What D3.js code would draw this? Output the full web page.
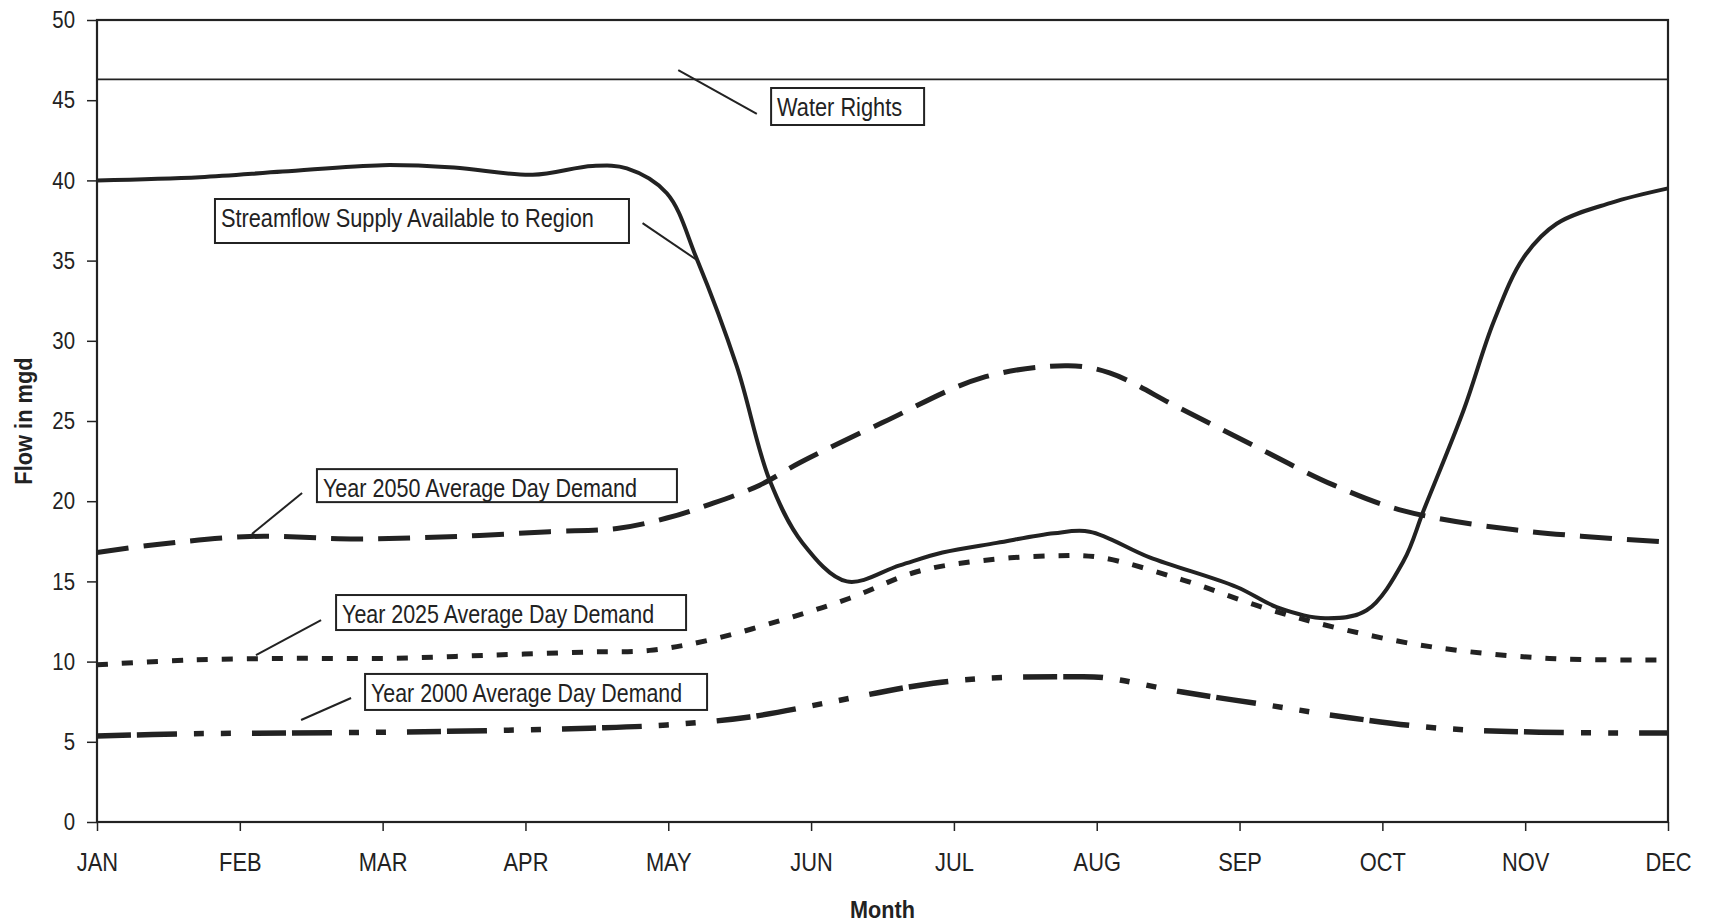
<!DOCTYPE html>
<html>
<head>
<meta charset="utf-8">
<script src="https://cdn.jsdelivr.net/npm/d3@7"></script>
<style>
  body { margin: 0; background: #fff; }
  svg { display: block; }
  text { font-family: "Liberation Sans Narrow", "Arial Narrow", "Liberation Sans", Arial, sans-serif; fill: #222; }
</style>
</head>
<body>
<div id="chart"></div>
<script>
// DATA
const months = ["JAN", "FEB", "MAR", "APR", "MAY", "JUN", "JUL", "AUG", "SEP", "OCT", "NOV", "DEC"];
const yTicks = [0, 5, 10, 15, 20, 25, 30, 35, 40, 45, 50];

const waterRights = 46.3;

// streamflow supply (month position, mgd)
const supplyAt   = [0, 0.72, 1.3, 2.0, 2.5, 3.05, 3.47, 3.71, 3.99, 4.2, 4.48, 4.71, 4.94, 5.25, 5.62, 5.92, 6.3, 6.7, 6.95, 7.37, 7.98, 8.26, 8.6, 8.89, 9.15, 9.29, 9.57, 9.78, 9.99, 10.22, 10.6, 11.0];
const supplyFlow = [40.0, 40.2, 40.55, 40.95, 40.8, 40.35, 40.9, 40.75, 39.2, 35.1, 28.4, 21.3, 17.4, 15.0, 16.0, 16.8, 17.4, 18.0, 18.1, 16.5, 14.65, 13.4, 12.7, 13.2, 16.3, 19.45, 25.7, 31.2, 35.2, 37.3, 38.6, 39.5];

// year 2050 average day demand
const d2050At   = [0, 0.42, 1.07, 1.82, 2.52, 3.17, 3.64, 3.99, 4.29, 4.64, 4.92, 5.5, 6.2, 6.8, 7.09, 7.56, 8.07, 8.66, 9.15, 9.94, 11];
const d2050Flow = [16.8, 17.3, 17.8, 17.65, 17.8, 18.1, 18.3, 18.95, 19.8, 21.0, 22.4, 24.9, 27.7, 28.45, 28.0, 25.9, 23.6, 21.0, 19.4, 18.2, 17.45];

// year 2025 average day demand
const d2025At   = [0, 0.65, 1.35, 2.05, 2.75, 3.45, 3.87, 4.29, 4.8, 5.27, 5.74, 6.2, 6.7, 7.02, 7.6, 8.19, 8.73, 9.36, 10.17, 11];
const d2025Flow = [9.8, 10.1, 10.2, 10.2, 10.4, 10.6, 10.7, 11.35, 12.6, 13.95, 15.6, 16.3, 16.6, 16.5, 15.1, 13.3, 12.0, 10.9, 10.2, 10.1];

// year 2000 average day demand
const d2000At   = [0, 0.65, 1.35, 2.05, 2.75, 3.45, 3.99, 4.57, 5.15, 5.74, 6.2, 6.8, 7.05, 7.6, 8.19, 8.77, 9.4, 10.1, 11];
const d2000Flow = [5.36, 5.5, 5.55, 5.6, 5.7, 5.85, 6.05, 6.55, 7.5, 8.5, 8.95, 9.05, 9.0, 8.1, 7.3, 6.5, 5.85, 5.6, 5.55];

const labelTexts = [
  "Water Rights",
  "Streamflow Supply Available to Region",
  "Year 2050 Average Day Demand",
  "Year 2025 Average Day Demand",
  "Year 2000 Average Day Demand"
];

// LAYOUT
const width = 1712, height = 922;
const margin = { top: 20, right: 44, bottom: 100, left: 97 };
const ink = "#222";

// callout placement in data units: box top-left, box size in px, leader from/to
const callouts = [
  { box: [4.72, 45.76], w: 153, h: 37, tw: 125, from: [4.07, 46.88], to: [4.62, 44.14] },
  { box: [0.826, 38.84], w: 414, h: 44, tw: 373, from: [3.82, 37.34], to: [4.20, 35.04] },
  { box: [1.54, 22.0], w: 360, h: 33, tw: 314, from: [1.436, 20.51], to: [1.085, 17.96] },
  { box: [1.674, 14.15], w: 350, h: 35, tw: 312, from: [1.569, 12.59], to: [1.113, 10.41] },
  { box: [1.877, 9.23], w: 342, h: 36, tw: 311, from: [1.779, 7.73], to: [1.429, 6.36] }
];

// HELPERS
// squeeze text horizontally, the original uses a narrow face
function narrow(selection, k) {
  selection.each(function() {
    const w = this.getComputedTextLength();
    d3.select(this)
      .attr("textLength", w * k)
      .attr("lengthAdjust", "spacingAndGlyphs");
  });
}

const svg = d3.select("#chart").append("svg")
    .attr("width", width)
    .attr("height", height);

const x = d3.scaleLinear()
    .domain([0, months.length - 1])
    .range([margin.left, width - margin.right]);

const y = d3.scaleLinear()
    .domain([0, 50])
    .range([height - margin.bottom, margin.top]);

// AXES
svg.append("g")
    .attr("transform", `translate(0,${height - margin.bottom})`)
    .call(d3.axisBottom(x)
      .tickValues(d3.range(months.length))
      .tickFormat(i => months[i])
      .tickSize(9)
      .tickPadding(22))
    .call(g => g.select(".domain").remove())
    .call(g => g.selectAll("line").attr("stroke", ink).attr("stroke-width", 1.5))
    .call(g => g.selectAll("text").attr("font-size", 26).attr("fill", ink).call(narrow, 0.84));

svg.append("g")
    .attr("transform", `translate(${margin.left},0)`)
    .call(d3.axisLeft(y)
      .tickValues(yTicks)
      .tickSize(10)
      .tickPadding(12))
    .call(g => g.select(".domain").remove())
    .call(g => g.selectAll("line").attr("stroke", ink).attr("stroke-width", 1.5))
    .call(g => g.selectAll("text").attr("font-size", 24).attr("fill", ink).call(narrow, 0.85));

// plot frame
svg.append("rect")
    .attr("x", x(0))
    .attr("y", y(50))
    .attr("width", x(11) - x(0))
    .attr("height", y(0) - y(50))
    .attr("fill", "none")
    .attr("stroke", ink)
    .attr("stroke-width", 2.2);

// axis titles
svg.append("text")
    .attr("x", (x(0) + x(11)) / 2)
    .attr("y", 918)
    .attr("text-anchor", "middle")
    .attr("font-size", 24)
    .attr("font-weight", "bold")
    .text("Month")
    .call(narrow, 0.9);

svg.append("text")
    .attr("transform", `translate(32,${(y(0) + y(50)) / 2}) rotate(-90)`)
    .attr("text-anchor", "middle")
    .attr("font-size", 23)
    .attr("font-weight", "bold")
    .text("Flow in mgd")
    .call(narrow, 0.95);

// LINES
const line = d3.line()
    .x(d => x(d[0]))
    .y(d => y(d[1]))
    .curve(d3.curveCatmullRom.alpha(0.5));

const series = [
  { at: d2000At, flow: d2000Flow, w: 5.5, dash: "34,6,40,17,10,17,10,21" },
  { at: d2025At, flow: d2025Flow, w: 5, dash: "11,14" },
  { at: d2050At, flow: d2050Flow, w: 5, dash: "32,15" },
  { at: supplyAt, flow: supplyFlow, w: 4, dash: null }
];

svg.append("g")
  .selectAll("path")
  .data(series)
  .join("path")
    .attr("d", s => line(s.at.map((m, i) => [m, s.flow[i]])))
    .attr("fill", "none")
    .attr("stroke", ink)
    .attr("stroke-width", s => s.w)
    .attr("stroke-dasharray", s => s.dash)
    .attr("stroke-linejoin", "round");

// water rights
svg.append("line")
    .attr("x1", x(0))
    .attr("x2", x(11))
    .attr("y1", y(waterRights))
    .attr("y2", y(waterRights))
    .attr("stroke", ink)
    .attr("stroke-width", 1.8);

// CALLOUTS
const callout = svg.append("g")
  .selectAll("g")
  .data(callouts)
  .join("g");

callout.append("line")
    .attr("x1", d => x(d.from[0]))
    .attr("y1", d => y(d.from[1]))
    .attr("x2", d => x(d.to[0]))
    .attr("y2", d => y(d.to[1]))
    .attr("stroke", ink)
    .attr("stroke-width", 2);

callout.append("rect")
    .attr("x", d => x(d.box[0]))
    .attr("y", d => y(d.box[1]))
    .attr("width", d => d.w)
    .attr("height", d => d.h)
    .attr("fill", "#fff")
    .attr("stroke", ink)
    .attr("stroke-width", 2);

callout.append("text")
    .attr("x", d => x(d.box[0]) + 6)
    .attr("y", d => y(d.box[1]) + 28)
    .attr("font-size", 26)
    .attr("textLength", d => d.tw)
    .attr("lengthAdjust", "spacingAndGlyphs")
    .text((d, i) => labelTexts[i]);
</script>
</body>
</html>
